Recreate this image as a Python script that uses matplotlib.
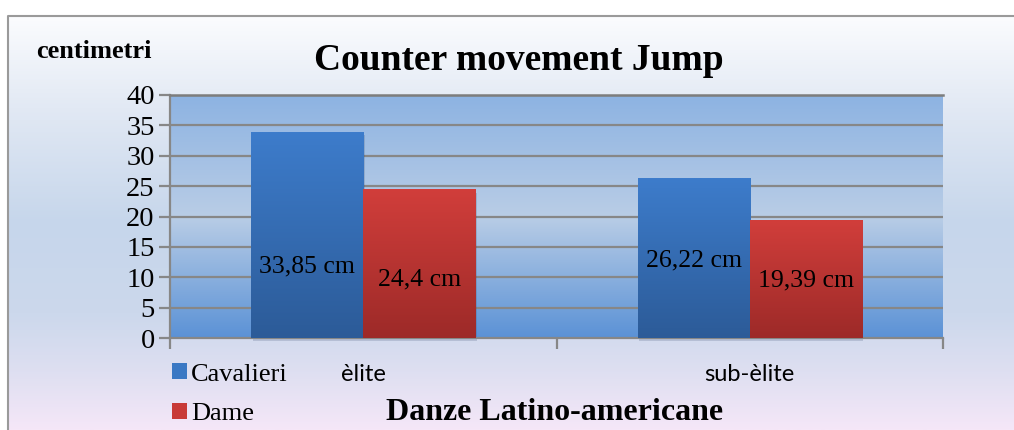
import numpy as np
import matplotlib
matplotlib.use('Agg')
import matplotlib.pyplot as plt
from matplotlib.colors import LinearSegmentedColormap
import matplotlib.patches as mpatches

# values in cm
categories = ['èlite', 'sub-èlite']
series = ['Cavalieri', 'Dame']
cavalieri = [33.85, 26.22]
dame = [24.4, 19.39]
value_labels = [['33,85 cm', '26,22 cm'], ['24,4 cm', '19,39 cm']]
label_heights = [[11.7, 12.8], [9.7, 9.4]]
yticks = [0, 5, 10, 15, 20, 25, 30, 35, 40]

SERIF = 'Liberation Serif'
W, H = 1014, 430

fig = plt.figure(figsize=(W / 100, H / 100), dpi=100)

# chart background: white -> light blue -> lavender
bg = fig.add_axes([0, 0, 1, 1], zorder=-10)
bg_cmap = LinearSegmentedColormap.from_list(
    'bg', [(0.0, '#fbfcfe'), (0.22, '#e2e9f4'), (0.5, '#c6d6eb'),
           (0.72, '#ccd8ec'), (0.86, '#dedff1'), (1.0, '#f5e7f8')])
grad = np.linspace(0, 1, 256).reshape(-1, 1)
bg.imshow(grad, cmap=bg_cmap, aspect='auto', extent=(8, W, H, 16))
bg.plot([8, 8, W], [H, 16, 16], color='#9a9a9a', lw=1.5)
bg.set_xlim(0, W)
bg.set_ylim(H, 0)
bg.axis('off')

ax = fig.add_axes([170 / W, (H - 338) / H, 773 / W, 243 / H])

# plot area gradient
pa_cmap = LinearSegmentedColormap.from_list(
    'pa', [(0.0, '#5b92d6'), (0.5, '#b9cde6'), (1.0, '#8db3e2')])
ax.imshow(grad[::-1], cmap=pa_cmap, aspect='auto',
          extent=(-0.5, 1.5, 0, 40), zorder=0)

for y in yticks[1:]:
    ax.axhline(y, color='#878787', lw=1.6, zorder=1)

width = 0.29
x = np.arange(len(categories))
blue_cmap = LinearSegmentedColormap.from_list('b', ['#2c5b98', '#3d7ccb'])
red_cmap = LinearSegmentedColormap.from_list('r', ['#9d2a28', '#d13e3b'])

for i, (vals, cmap) in enumerate([(cavalieri, blue_cmap), (dame, red_cmap)]):
    xs = x - width / 2 + i * width
    bars = ax.bar(xs, vals, width, color='none', zorder=3)
    for j, b in enumerate(bars):
        x0, x1 = b.get_x(), b.get_x() + b.get_width()
        h = b.get_height()
        # soft shadow under the bar
        ax.add_patch(mpatches.Rectangle((x0 + 0.004, -0.5), x1 - x0, h,
                                        color='#2a3f60', alpha=0.18, lw=0,
                                        zorder=2, clip_on=False))
        ax.imshow(grad[::-1][::2], cmap=cmap, aspect='auto',
                  extent=(x0, x1, 0, h), zorder=3)
        ax.text(b.get_x() + b.get_width() / 2, label_heights[i][j],
                value_labels[i][j], ha='center', va='center',
                family=SERIF, fontsize=18.5, zorder=5)

ax.set_xlim(-0.5, 1.5)
ax.set_ylim(0, 40)

for s in ['left', 'bottom']:
    ax.spines[s].set_color('#878787')
    ax.spines[s].set_linewidth(1.6)
ax.spines['top'].set_color('#7d7d7d')
ax.spines['top'].set_linewidth(1.8)
ax.spines['right'].set_visible(False)

ax.set_yticks(yticks)
ax.set_yticklabels([str(t) for t in yticks], family=SERIF, fontsize=20.5)
ax.tick_params(axis='y', length=8, width=1.6, color='#878787', pad=3)

ax.set_xticks([-0.5, 0.5, 1.5])
ax.set_xticklabels([])
ax.tick_params(axis='x', length=8, width=1.6, color='#878787')
ax.set_xticks(x, minor=True)
ax.set_xticklabels(categories, minor=True, family='Lato', fontsize=17)
ax.tick_params(axis='x', which='minor', length=0, pad=19)

fig.text(36 / W, 1 - 51 / H, 'centimetri', family=SERIF, weight='bold',
         fontsize=19, va='center', ha='left')
fig.text(519 / W, 1 - 60 / H, 'Counter movement Jump', family=SERIF,
         weight='bold', fontsize=27, ha='center', va='center')
fig.text(555 / W, 1 - 413 / H, 'Danze Latino-americane', family=SERIF,
         weight='bold', fontsize=23, ha='center', va='center')

handles = [mpatches.Patch(facecolor='#3a78c4', edgecolor='none'),
           mpatches.Patch(facecolor='#c83a37', edgecolor='none')]
fig.legend(handles, series, loc='upper left',
           bbox_to_anchor=(167 / W, 1 - 358 / H), frameon=False,
           prop={'family': SERIF, 'size': 19}, handlelength=0.55,
           handleheight=0.55, handletextpad=0.15, labelspacing=0.65,
           borderpad=0.2, borderaxespad=0)

fig.savefig('out.png', dpi=100)
